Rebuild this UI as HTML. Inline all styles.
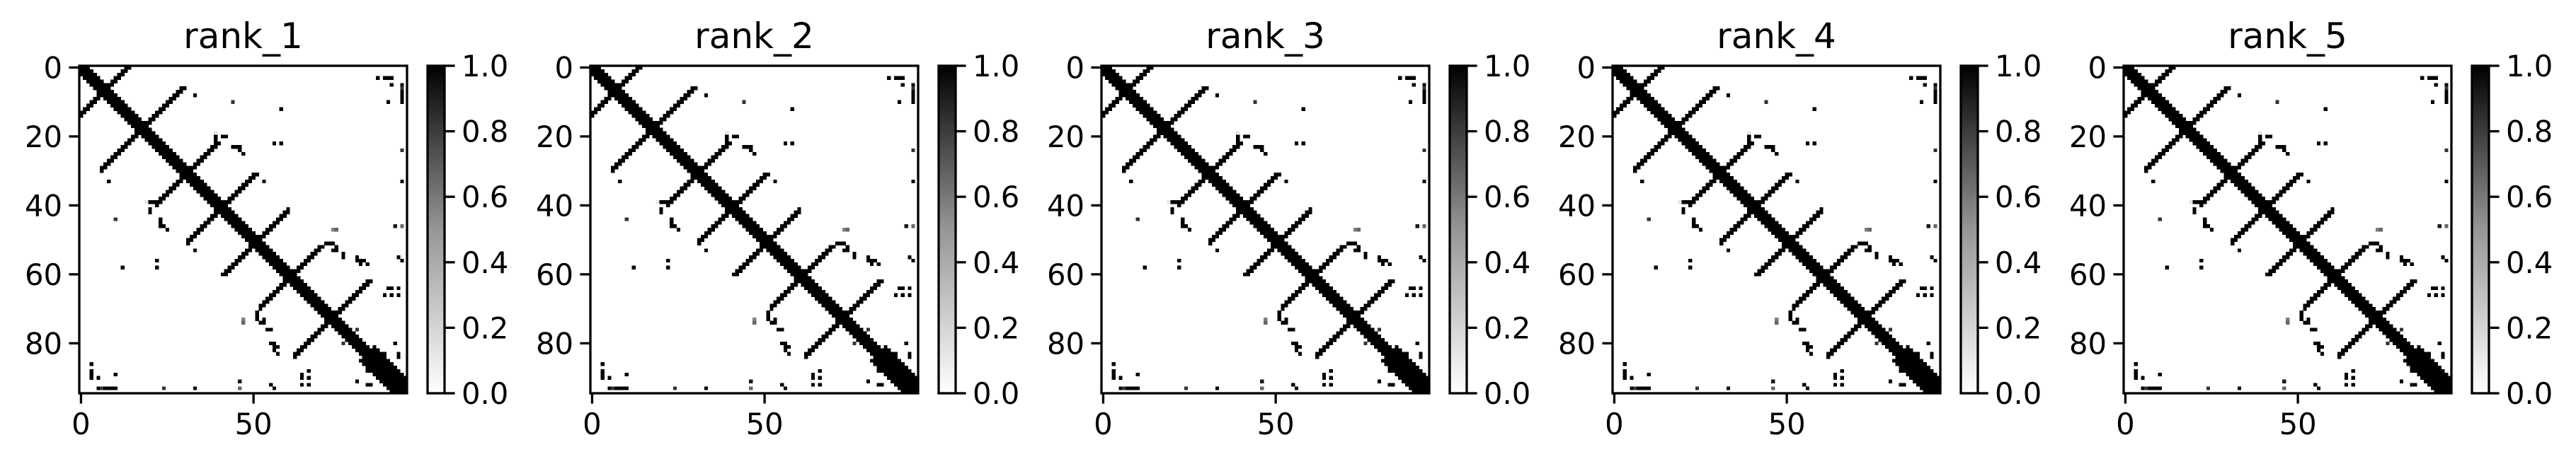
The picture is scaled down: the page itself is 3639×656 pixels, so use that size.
<!DOCTYPE html>
<html><head><meta charset="utf-8"><style>
html,body{margin:0;padding:0;background:#fff;}
svg{display:block;font-family:"DejaVu Sans","Liberation Sans",sans-serif;}
</style></head><body>
<svg id="fig" width="3639" height="656" viewBox="0 0 3639 656" xmlns="http://www.w3.org/2000/svg">
<defs><linearGradient id="greys" x1="0" y1="1" x2="0" y2="0">
<stop offset="0" stop-color="#ffffff"/><stop offset="0.5" stop-color="#969696"/><stop offset="1" stop-color="#000000"/></linearGradient></defs>
</svg>
<script>
// ---- data ----
const panelTitles = ["rank_1","rank_2","rank_3","rank_4","rank_5"];
const N = 95;
const xTicks = [0, 50];
const yTicks = [0, 20, 40, 60, 80];
const cbTicks = [0.0, 0.2, 0.4, 0.6, 0.8, 1.0];
// anti-diagonal strands: i + j = sum, for rows rowStart..rowEnd
const strandSums = [13, 35, 61, 81, 101, 121, 145];
const strandRowStart = [0, 6, 22, 31, 42, 52, 62];
const strandRowEnd = [13, 29, 39, 50, 60, 69, 83];
// main diagonal half-widths
const diagHalfWidth = 2;
const diagWideFrom = 85;
const diagWideHalfWidth = 4;
// scattered contacts (symmetrised)
const dotRows = [3,3,5,6,8,10,10,8,10,20,20,23,24,22,22,24,33,33,39,39,41,44,44,45,46,47,46,47,53,53,54,55,56,56,57,57,56,58,58,64,64,66,66,66,73,76,80,80,82,80,76,83,83,51,51,52,53,72,73,74,74,89,90,89,90,92,92,91,93,93,93,93,93,91,92,90];
const dotCols = [86,88,90,93,93,89,93,33,44,39,42,44,46,56,58,93,53,93,19,21,20,10,23,23,23,25,93,74,33,73,76,92,81,22,81,83,93,22,12,89,92,88,90,92,47,55,55,56,56,76,80,88,92,71,72,74,74,51,51,52,53,3,3,10,64,64,66,46,5,7,9,24,33,80,84,5];
const dotVals = [1,1,0.7,0.8,1,1,1,1,0.7,1,1,1,1,1,1,0.8,1,1,0.1,1,1,0.8,1,1,1,1,0.6,0.6,1,1,1,1,1,1,1,1,1,1,1,1,1,1,1,1,0.5,1,1,1,1,0.8,0.8,1,1,1,1,1,1,1,1,1,1,1,1,1,1,1,1,0.9,1,1,1,0.8,1,1,1,1];

// ---- layout ----
const svg = document.getElementById('fig');
const NS = "http://www.w3.org/2000/svg";
const AX_L = 112, AX_T = 93, AX_S = 463, PANEL_DX = 722;
const CB_L = 604, CB_W = 24;
const cell = AX_S / N;
function mk(tag, attrs, parent){const e=document.createElementNS(NS,tag);for(const k in attrs)e.setAttribute(k,attrs[k]);(parent||svg).appendChild(e);return e;}

function buildMatrix(){
  const M = Array.from({length:N},()=>new Array(N).fill(0));
  const set=(i,j,v)=>{if(i>=0&&j>=0&&i<N&&j<N){M[i][j]=Math.max(M[i][j],v);M[j][i]=Math.max(M[j][i],v);}};
  for(let i=0;i<N;i++){const hw=i>=diagWideFrom?diagWideHalfWidth:diagHalfWidth;for(let d=-hw;d<=hw;d++)set(i,i+d,1);}
  for(let s=0;s<strandSums.length;s++){
    for(let i=strandRowStart[s];i<=strandRowEnd[s];i++){set(i,strandSums[s]-i,1);set(i,strandSums[s]+1-i,1);}
  }
  for(let k=0;k<dotRows.length;k++)set(dotRows[k],dotCols[k],dotVals[k]);
  return M;
}
const M = buildMatrix();
const xScale = (ox,j)=>ox+AX_L+j*cell;
const yScale = i=>AX_T+i*cell;

panelTitles.forEach((t,p)=>{
  const ox = p*PANEL_DX;
  const g = mk('g',{});
  
  
  const title = mk('text',{x:ox+AX_L+AX_S/2,y:68,'text-anchor':'middle','font-size':50},g);
  title.textContent=t;
  
  
  const hm = mk('g',{'shape-rendering':'crispEdges'},g);
  
  
  for(let i=0;i<N;i++)for(let j=0;j<N;j++){const v=M[i][j];if(v>0){
    const c=Math.round(255*(1-v));
    const r=mk('rect',{x:xScale(ox,j).toFixed(2),y:yScale(i).toFixed(2),width:(cell+0.4).toFixed(2),height:(cell+0.4).toFixed(2),fill:`rgb(${c},${c},${c})`},hm);
    
    
  }}
  const frame=mk('rect',{x:ox+AX_L,y:AX_T,width:AX_S,height:AX_S,fill:'none',stroke:'#000','stroke-width':3.3},g);
  
  
  yTicks.forEach(v=>{
    const y=AX_T+(v+0.5)*cell;
    mk('line',{x1:ox+AX_L-14.6,x2:ox+AX_L,y1:y,y2:y,stroke:'#000','stroke-width':3.3},g);
    const tx=mk('text',{x:ox+AX_L-24,y:y+15,'text-anchor':'end','font-size':41.7},g);
    tx.textContent=v;
    
    
  });
  xTicks.forEach(v=>{
    const x=ox+AX_L+(v+0.5)*cell;
    mk('line',{x1:x,x2:x,y1:AX_T+AX_S,y2:AX_T+AX_S+14.6,stroke:'#000','stroke-width':3.3},g);
    const tx=mk('text',{x:x,y:614,'text-anchor':'middle','font-size':41.7},g);
    tx.textContent=v;
    
    
  });
  const cb=mk('rect',{x:ox+CB_L,y:AX_T,width:CB_W,height:AX_S,fill:'url(#greys)',stroke:'#000','stroke-width':3.3},g);
  
  
  cbTicks.forEach(v=>{
    const y=AX_T+AX_S*(1-v);
    mk('line',{x1:ox+CB_L+CB_W,x2:ox+CB_L+CB_W+14.6,y1:y,y2:y,stroke:'#000','stroke-width':3.3},g);
    const tx=mk('text',{x:ox+CB_L+CB_W+24,y:y+15,'font-size':41.7},g);
    tx.textContent=v.toFixed(1);
    
    
  });
});
</script>
</body></html>
